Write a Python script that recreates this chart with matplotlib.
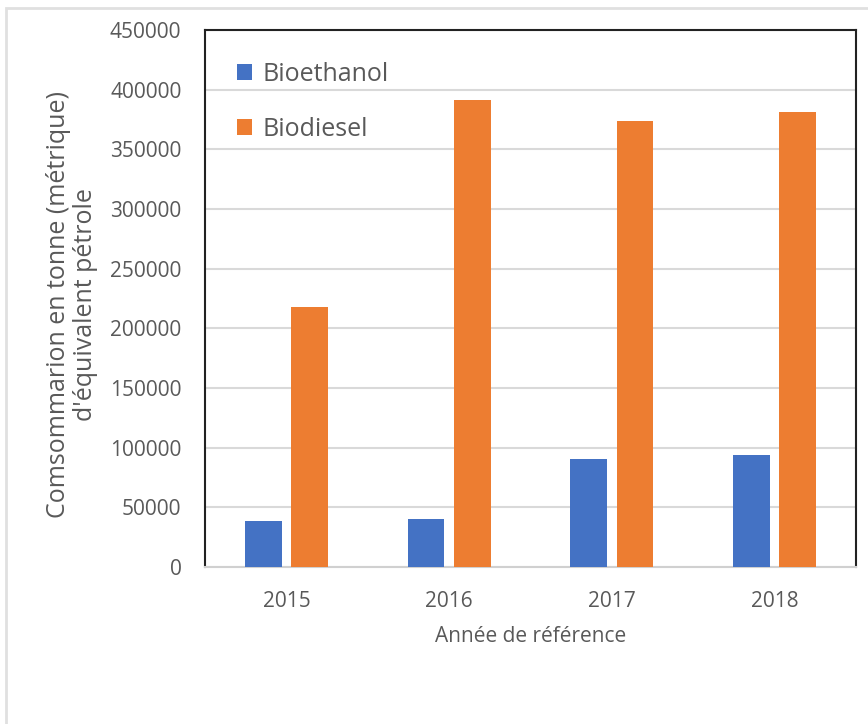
import matplotlib
matplotlib.use('agg')
import matplotlib.pyplot as plt
from matplotlib.patches import Rectangle
import numpy as np

# data
years = ['2015', '2016', '2017', '2018']
bioethanol = [38500, 40000, 90500, 94000]
biodiesel = [217500, 391000, 374000, 381000]
yticks = list(range(0, 450001, 50000))

plt.rcParams['font.family'] = ['Open Sans', 'DejaVu Sans']
txt = '#595959'

fig = plt.figure(figsize=(8.68, 7.24), dpi=100)
ax = fig.add_axes([205/868, 1 - 567/724, 651/868, 537/724])

x = np.arange(len(years))
w = 0.225
ax.bar(x - 0.142, bioethanol, w, color='#4472C4', label='Bioethanol', zorder=3)
ax.bar(x + 0.142, biodiesel, w, color='#ED7D31', label='Biodiesel', zorder=3)

ax.set_xlim(-0.5, 3.5)
ax.set_ylim(0, 450000)
ax.set_yticks(yticks)
ax.set_yticklabels([str(v) for v in yticks])
ax.set_xticks(x)
ax.set_xticklabels(years)
ax.tick_params(axis='y', length=0, pad=17, labelsize=15, labelcolor=txt)
ax.tick_params(axis='x', length=0, pad=17, labelsize=15, labelcolor=txt)
ax.grid(axis='y', color='#D9D9D9', linewidth=1.5, zorder=0)

for s in ['left', 'top', 'right']:
    ax.spines[s].set_color('#222222')
    ax.spines[s].set_linewidth(1.5)
ax.spines['bottom'].set_color('#D0D0D0')
ax.spines['bottom'].set_linewidth(1.5)

ax.set_xlabel('Année de référence', fontsize=15, color=txt, labelpad=10)
fig.text(72/868, 1 - 305/724, "Comsommarion en tonne (métrique)\nd'équivalent pétrole",
         rotation=90, ha='center', va='center', fontsize=18, color=txt,
         multialignment='center', linespacing=1.15)

leg = ax.legend(loc='upper left', bbox_to_anchor=(0.015, 0.982), frameon=False,
                fontsize=18, handlelength=0.6, handleheight=0.6, handletextpad=0.4,
                labelspacing=1.2, labelcolor=txt)

# light outer frame
fig.patches.append(Rectangle((6/868, -0.2), 1.5, 1.2 - 8/724,
                             transform=fig.transFigure, fill=False,
                             edgecolor='#E0E0E0', linewidth=2))

fig.savefig('out.png', dpi=100)
